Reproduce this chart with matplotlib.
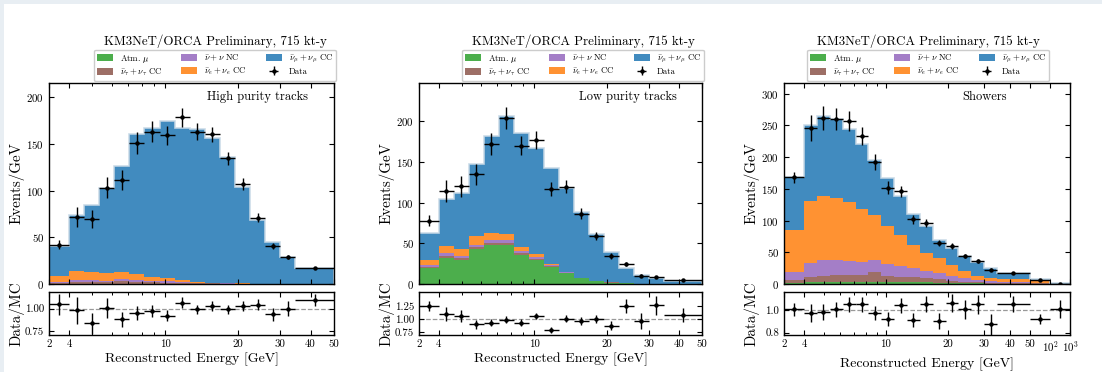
import numpy as np
import matplotlib
matplotlib.use('Agg')
import matplotlib.pyplot as plt
from matplotlib.patches import Patch, Rectangle
from matplotlib.ticker import FixedLocator, FixedFormatter, NullFormatter

plt.rcParams.update({
    'font.family': 'cmr10',
    'mathtext.fontset': 'cm',
    'axes.formatter.use_mathtext': True,
    'axes.unicode_minus': False,
})

# ---------------- data ----------------
edges_tracks = [2, 4, 4.619, 5.335, 6.160, 7.113, 8.214, 9.487, 10.954, 12.649,
                14.607, 16.868, 19.478, 22.494, 25.975, 29.995, 34.637, 50]
edges_showers = edges_tracks + [100, 1000]

# High purity tracks
hpt_mu = [0.3, 0.3, 0.3, 0.3, 0.3, 0.3, 0.2, 0.2, 0.1, 0.1, 0.1, 0.05, 0.05, 0.02, 0.01, 0.01, 0.01]
hpt_tau = [1.0, 1.5, 1.5, 1.5, 2.5, 2.0, 1.5, 1.2, 1.0, 0.8, 0.5, 0.3, 0.2, 0.1, 0.05, 0.02, 0.01]
hpt_nc = [1.2, 2.2, 2.2, 1.7, 3.0, 2.5, 2.0, 1.5, 1.0, 0.6, 0.4, 0.2, 0.1, 0.05, 0.02, 0.01, 0.01]
hpt_e = [6.5, 10.0, 8.5, 8.0, 7.5, 5.5, 4.0, 3.5, 2.2, 1.0, 0.5, 0.3, 0.2, 0.1, 0.05, 0.02, 0.01]
hpt_numu = [32.0, 60.0, 71.5, 91.5, 112.7, 149.7, 159.3, 167.6, 162.7, 163.5, 154.5, 135.2, 103.4, 68.7, 44.9, 29.0, 16.8]
hpt_data = [42, 72, 69.5, 103, 111, 151, 163, 159, 178.5, 163, 160, 134.5, 107, 71, 41, 29, 17]
hpt_err = [4.6, 10.8, 9.9, 11.2, 10.8, 11.7, 11.3, 10.4, 10.2, 9.1, 8.4, 7.2, 6.0, 4.5, 3.2, 2.5, 1.05]
hpt_ratio = [1.048, 0.98, 0.835, 1.007, 0.88, 0.95, 0.97, 0.92, 1.066, 0.99, 1.026, 0.99, 1.026, 1.045, 0.935, 1.0, 1.09]
hpt_ratio_err = [0.115, 0.147, 0.119, 0.11, 0.086, 0.074, 0.067, 0.06, 0.061, 0.055, 0.054, 0.053, 0.058, 0.066, 0.073, 0.086, 0.067]

# Low purity tracks
lpt_mu = [19.5, 32.5, 29.5, 43, 48, 48, 35.5, 29.5, 21, 13.5, 7, 3.5, 1.8, 0.8, 0.3, 0.2, 0.1]
lpt_tau = [1.5, 2, 2, 2, 2.5, 2.5, 2, 1.5, 1, 0.6, 0.3, 0.2, 0.1, 0.05, 0.02, 0.01, 0.01]
lpt_nc = [2, 3, 2.5, 3.5, 3.5, 3.5, 3, 2, 1, 0.5, 0.2, 0.1, 0.05, 0.02, 0.01, 0.01, 0.01]
lpt_e = [6.5, 9.5, 8.5, 10, 9, 8, 5.5, 3.5, 2, 0.6, 0.3, 0.2, 0.1, 0.05, 0.02, 0.01, 0.01]
lpt_numu = [33.5, 58, 69.5, 89.5, 119, 145, 140, 130.5, 118, 102.8, 81.2, 58, 37, 19.1, 10.6, 7.3, 3.9]
lpt_data = [78, 114, 120, 135, 172, 204, 170, 176.5, 117, 119.6, 86.6, 59, 34.2, 24.7, 10.3, 9, 4.5]
lpt_err = [6.2, 13.6, 13, 12.8, 13.4, 13.6, 11.6, 11, 8.3, 7.8, 6.2, 4.75, 3.4, 2.7, 1.6, 1.4, 0.54]
lpt_ratio = [1.25, 1.095, 1.07, 0.905, 0.937, 0.987, 0.937, 1.063, 0.80, 1.013, 0.968, 1.0, 0.874, 1.25, 0.968, 1.265, 1.08]
lpt_ratio_err = [0.098, 0.13, 0.116, 0.086, 0.074, 0.066, 0.064, 0.066, 0.058, 0.066, 0.07, 0.079, 0.087, 0.135, 0.145, 0.187, 0.135]

# Showers
shw_mu = [1.5, 2.5, 3, 3.5, 3.5, 3.5, 3.5, 3.5, 3.5, 3, 2.5, 2, 1.5, 1, 0.8, 0.5, 0.3, 0.1, 0.01]
shw_tau = [4.8, 8.1, 9, 10.5, 11.3, 11.3, 15, 9.5, 8.1, 7.6, 6.5, 5.4, 3.8, 2.7, 1.8, 1.1, 1.3, 0.7, 0.05]
shw_nc = [13.3, 22.4, 26, 24, 22.2, 20.6, 19.5, 18.7, 17.4, 14.4, 12, 9.6, 7.7, 5.8, 4.4, 2.6, 2.1, 1.2, 0.05]
shw_e = [66, 97.7, 100.6, 97, 91.6, 83.6, 70.5, 59.3, 48.8, 37, 27.7, 23.7, 17, 10.5, 6, 4.8, 4.3, 2, 0.2]
shw_numu = [83.3, 120.3, 127, 125, 116.4, 102, 87.5, 75.7, 61.2, 49, 42.3, 29.3, 27, 24, 22.4, 16, 9.5, 4, 0.7]
shw_data = [168, 246, 262, 260, 257, 233, 192, 152, 146, 102, 96, 65, 60, 44, 36, 22.5, 18, 6, 0.5]
shw_err = [9.2, 19.9, 19, 17.8, 16.4, 14.5, 12.3, 10.2, 9.3, 7.2, 6.5, 5, 4.5, 3.6, 3, 2.2, 1.1, 0.35, 0.05]
shw_ratio = [1.006, 0.976, 0.985, 1.006, 1.05, 1.05, 0.976, 0.918, 1.041, 0.912, 1.05, 0.906, 1.065, 1.006, 1.05, 0.874, 1.053, 0.924, 1.006]
shw_ratio_err = [0.055, 0.08, 0.072, 0.068, 0.067, 0.065, 0.062, 0.061, 0.066, 0.064, 0.071, 0.071, 0.079, 0.082, 0.087, 0.09, 0.072, 0.045, 0.08]

title_text = "KM3NeT/ORCA Preliminary, 715 kt-y"
comp_labels = ['Atm. $\\mu$', '$\\bar{\\nu}_\\tau+\\nu_\\tau$ CC', '$\\bar{\\nu}+\\nu$ NC',
               '$\\bar{\\nu}_e+\\nu_e$ CC', '$\\bar{\\nu}_\\mu+\\nu_\\mu$ CC']
comp_colors = ['#2ca02c', '#8c564b', '#9467bd', '#ff7f0e', '#1f77b4']

# ---------------- helpers ----------------
L4, L50, L2 = np.log10(4.0), np.log10(50.0), np.log10(2.0)


def make_scale(s, high):
    def fwd(x):
        x = np.clip(np.asarray(x, dtype=float), 1e-3, None)
        lx = np.log10(x)
        out = np.where(x < 4, L4 - s * (L4 - lx) / L2, lx)
        if high:
            out = np.where(x > 50, np.where(x <= 100, L50 + s * (lx - L50) / L2,
                                            L50 + s + s * (lx - 2.0)), out)
        return out

    def inv(y):
        y = np.asarray(y, dtype=float)
        lx = np.where(y < L4, L4 - (L4 - y) * L2 / s, y)
        if high:
            lx = np.where(y > L50, np.where(y <= L50 + s, L50 + (y - L50) * L2 / s,
                                            2.0 + (y - L50 - s) / s), lx)
        return 10 ** lx
    return fwd, inv


fig = plt.figure(figsize=(11.02, 3.72), dpi=100)
fig.patch.set_facecolor('#e8eef3')
fig.patches.append(Rectangle((4 / 1102, 0), 1, 1 - 4 / 372, transform=fig.transFigure,
                             facecolor='white', edgecolor='none', zorder=-10))

panels = [
    dict(edges=edges_tracks, comps=[hpt_mu, hpt_tau, hpt_nc, hpt_e, hpt_numu], data=hpt_data,
         err=hpt_err, ratio=hpt_ratio, rerr=hpt_ratio_err, label='High purity tracks',
         left=49, width=285, ylim=(0, 215), yticks=[0, 50, 100, 150, 200],
         rylim=(0.706, 1.184), rticks=[0.75, 1.00], rfmt='%.2f', s=0.0828, high=False,
         tx=215, lblx=0.733),
    dict(edges=edges_tracks, comps=[lpt_mu, lpt_tau, lpt_nc, lpt_e, lpt_numu], data=lpt_data,
         err=lpt_err, ratio=lpt_ratio, rerr=lpt_ratio_err, label='Low purity tracks',
         left=419, width=283, ylim=(0, 247), yticks=[0, 50, 100, 150, 200],
         rylim=(0.70, 1.52), rticks=[0.75, 1.00, 1.25], rfmt='%.2f', s=0.0828, high=False,
         tx=583, lblx=0.737),
    dict(edges=edges_showers, comps=[shw_mu, shw_tau, shw_nc, shw_e, shw_numu], data=shw_data,
         err=shw_err, ratio=shw_ratio, rerr=shw_ratio_err, label='Showers',
         left=784, width=286, ylim=(0, 317), yticks=[0, 50, 100, 150, 200, 250, 300],
         rylim=(0.78, 1.16), rticks=[0.8, 1.0], rfmt='%.1f', s=0.0975, high=True,
         tx=928, lblx=0.703),
]

W, H = 1102.0, 372.0
main_bottom, main_h = 1 - 284 / H, 201 / H
rat_bottom, rat_h = 1 - 335 / H, 43 / H

for p in panels:
    edges = np.array(p['edges'], dtype=float)
    lo, hi = edges[:-1], edges[1:]
    fwd, inv = make_scale(p['s'], p['high'])
    xc = inv((fwd(lo) + fwd(hi)) / 2)

    ax = fig.add_axes([p['left'] / W, main_bottom, p['width'] / W, main_h])
    rax = fig.add_axes([p['left'] / W, rat_bottom, p['width'] / W, rat_h])
    for a in (ax, rax):
        a.set_xscale('function', functions=(fwd, inv))
        a.set_xlim(edges[0], edges[-1])

    base = np.zeros(len(lo))
    handles = []
    for vals, col, lab in zip(p['comps'], comp_colors, comp_labels):
        top = base + np.array(vals, dtype=float)
        ax.stairs(top, edges, baseline=base, fill=True, color=col, alpha=0.85, lw=0)
        handles.append(Patch(facecolor=col, alpha=0.85, edgecolor='none', label=lab))
        base = top
    ax.stairs(base, edges, color='#c8d9e6', lw=1.2, alpha=0.9)

    eb = ax.errorbar(xc, p['data'], yerr=p['err'], xerr=[xc - lo, hi - xc], fmt='o', ms=2.2,
                     color='k', elinewidth=1.0, capsize=0, label='Data')
    ax.set_ylim(*p['ylim'])
    ax.set_yticks(p['yticks'])
    ax.set_ylabel('Events/GeV', fontsize=10.8)
    ax.yaxis.set_label_coords(-0.085, 0.5)
    ax.text(p['lblx'], 0.93, p['label'], transform=ax.transAxes, ha='center', va='center',
            fontsize=9)

    rax.errorbar(xc, p['ratio'], yerr=p['rerr'], xerr=[xc - lo, hi - xc], fmt='o', ms=2.2,
                 color='k', elinewidth=1.0, capsize=0)
    rax.axhline(1.0, color='#999999', ls='--', lw=0.9, zorder=0)
    rax.set_ylim(*p['rylim'])
    rax.set_yticks(p['rticks'])
    rax.set_yticklabels([p['rfmt'] % v for v in p['rticks']])
    rax.set_ylabel('Data/MC', fontsize=10.8)
    rax.yaxis.set_label_coords(-0.085, 0.5)
    rax.set_xlabel('Reconstructed Energy [GeV]', fontsize=10, labelpad=2)

    majors = [2, 4, 10, 20, 30, 40, 50]
    mlabels = ['2', '4', '10', '20', '30', '40', '50']
    if p['high']:
        majors += [100, 1000]
        mlabels += ['$10^2$', '$10^3$']
    minors = [5, 6, 7, 8, 9]
    for a in (ax, rax):
        a.xaxis.set_major_locator(FixedLocator(majors))
        a.xaxis.set_minor_locator(FixedLocator(minors))
        a.xaxis.set_minor_formatter(NullFormatter())
        a.tick_params(which='both', direction='in', top=True, right=True, labelsize=7.8)
        a.tick_params(which='major', length=3.5, width=0.8)
        a.tick_params(which='minor', length=2.2, width=0.7)
        for sp in a.spines.values():
            sp.set_linewidth(1.0)
    ax.xaxis.set_major_formatter(NullFormatter())
    rax.xaxis.set_major_formatter(FixedFormatter(mlabels))

    fig.text(p['tx'] / W, 1 - 41 / H, title_text, ha='center', va='center', fontsize=9.3)
    order = [handles[0], handles[1], handles[2], handles[3], handles[4], eb]
    fig.legend(handles=order, labels=[h.get_label() for h in order[:5]] + ['Data'], ncol=3,
               loc='center', bbox_to_anchor=(p['tx'] / W, 1 - 65.5 / H), fontsize=6.3,
               frameon=True, handlelength=1.8, handleheight=0.8, columnspacing=2.2,
               labelspacing=0.25, borderpad=0.35, handletextpad=0.8, framealpha=1,
               edgecolor='#cccccc')

fig.savefig('out.png', dpi=100, facecolor=fig.get_facecolor())
